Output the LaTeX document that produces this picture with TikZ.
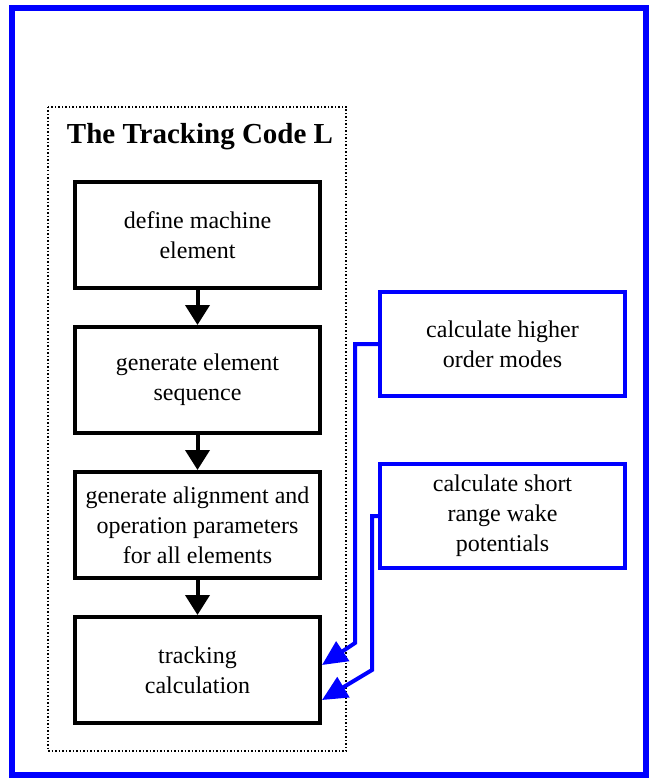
\documentclass[tikz,border=0pt]{standalone}
\usepackage{fontspec}
\setmainfont{Liberation Serif}
\usetikzlibrary{arrows.meta}

\begin{document}
\begin{tikzpicture}[
  x=1pt, y=-1pt,
  every node/.style = {font=\fontsize{24}{30}\selectfont, align=center},
  codebox/.style = {draw, line width=4pt, minimum width=245pt, minimum height=106pt, inner sep=0pt},
  wakebox/.style = {codebox, draw=blue, minimum height=104pt},
  flow/.style = {line width=4pt, -{Triangle[length=20pt,width=24pt]}},
  feed/.style = {draw=blue, line width=4pt, -{Triangle[length=25pt,width=23pt]}}
]
  \useasboundingbox (0,0) rectangle (653,778);
  \draw[blue, line width=6pt] (12,8) rectangle (646,775);
  \draw[dotted, line width=1.5pt] (48,107) rectangle (346,751);

  \node[font=\fontsize{29}{34}\selectfont\bfseries] (title) at (200,137) {The Tracking Code L};

  % the code L
  \node[codebox] (define) at (197.5,235) {define machine\\element};
  \node[codebox] (sequence) at (197.5,380) {generate element\\sequence};
  \node[codebox] (align) at (197.5,525) {generate alignment and\\operation parameters\\for all elements};
  \node[codebox] (track) at (197.5,670) {tracking\\calculation};

  \draw[flow] (define.south) -- (sequence.north);
  \draw[flow] (sequence.south) -- (align.north);
  \draw[flow] (align.south) -- (track.north);

  % outside input
  \node[wakebox] (modes) at (502.5,344) {calculate higher\\order modes};
  \node[wakebox] (wake) at (502.5,516) {calculate short\\range wake\\potentials};

  \draw[feed] (modes.west) -| (355,643) -- ([yshift=5pt]track.east);
  \draw[feed] (wake.west) -| (372,670) -- ([yshift=-30pt]track.east);
\end{tikzpicture}
\end{document}
